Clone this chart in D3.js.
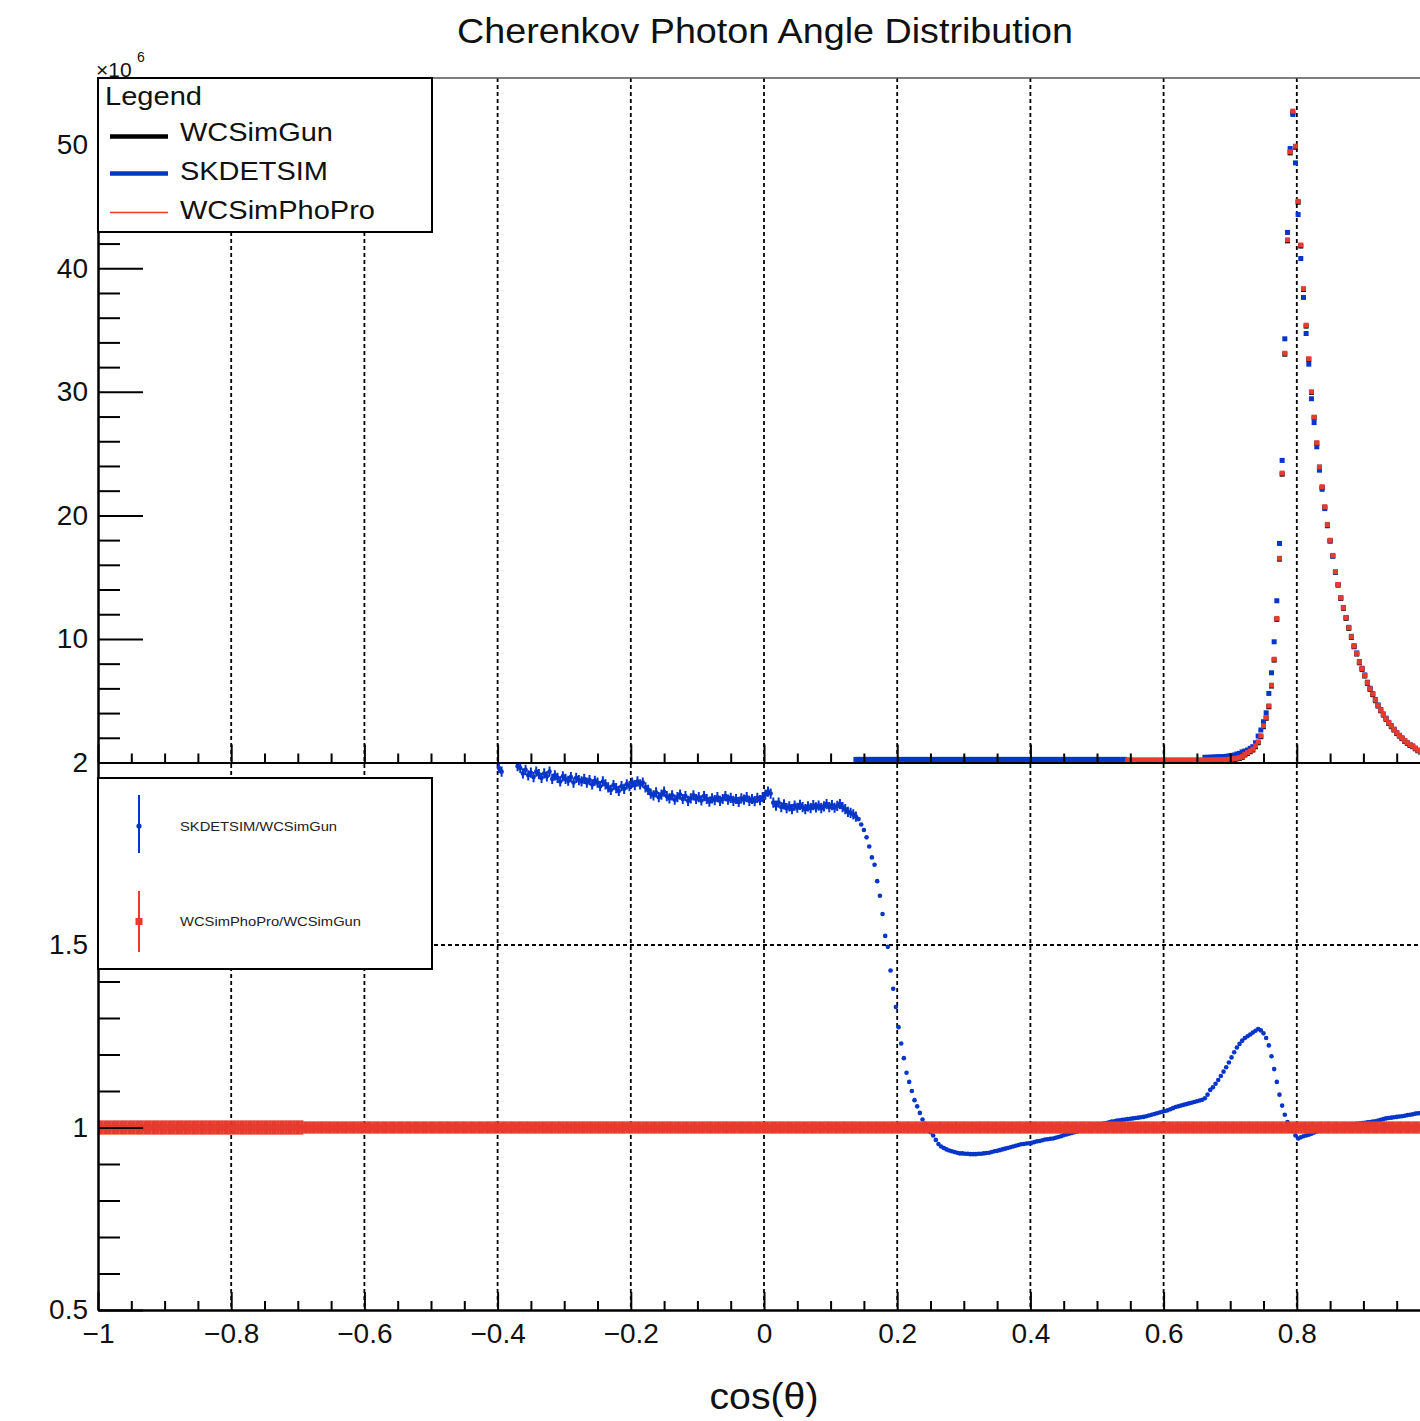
<!DOCTYPE html>
<html>
<head>
<meta charset="utf-8">
<script src="https://cdn.jsdelivr.net/npm/d3@7"></script>
<style>
  body { margin: 0; background: #fff; }
  text { font-family: "Liberation Sans", Arial, Helvetica, sans-serif; }
</style>
</head>
<body>
<script>
// histogram definition: 500 bins over cos(theta) in [-1, 1]
const nBins = 500;
const xMin = -1, xMax = 1;

// x axis ticks (the label at 1 falls outside the picture)
const xMajorTicks = [-1, -0.8, -0.6, -0.4, -0.2, 0, 0.2, 0.4, 0.6, 0.8, 1];
const xTickLabels = ["\u22121", "\u22120.8", "\u22120.6", "\u22120.4", "\u22120.2", "0", "0.2", "0.4", "0.6", "0.8", ""];
// top panel y ticks (x10^6)
const topYTicks = [10, 20, 30, 40, 50];
const topYLabels = ["10", "20", "30", "40", "50"];
// ratio panel y ticks
const ratioYTicks = [0.5, 1, 1.5, 2];
const ratioYLabels = ["0.5", "1", "1.5", "2"];

// ---- top panel: photons per bin (x10^6), bins 284..499 ----
const topFirstBin = 284;

const gunCounts = [
  // 284-414: on the axis
  0,0,0,0,0,0,0,0,0,0, 0,0,0,0,0,0,0,0,0,0, 0,0,0,0,0,0,0,0,0,0,
  0,0,0,0,0,0,0,0,0,0, 0,0,0,0,0,0,0,0,0,0, 0,0,0,0,0,0,0,0,0,0,
  0,0,0,0,0,0,0,0,0,0, 0,0,0,0,0,0,0,0,0,0, 0,0,0,0,0,0,0,0,0,0,
  0,0,0,0,0,0,0,0,0,0, 0,0,0,0,0,0,0,0,0,0, 0,0,0,0,0,0,0,0,0,0,
  0,0,0,0,0,0,0,0,0,0, 0,
  // 415-427
  0.12, 0.12, 0.13, 0.13, 0.14, 0.15, 0.16, 0.17, 0.18, 0.20, 0.22, 0.25, 0.29,
  // 428-454
  0.34, 0.42, 0.61, 0.74, 0.87, 1.01, 1.28, 1.60, 2.09, 2.90,
  3.58, 4.51, 6.19, 8.29, 11.59, 16.46, 23.34, 33.05, 42.22, 49.34,
  52.60, 49.80, 45.35, 41.80, 38.28, 35.32, 32.62,
  // 455-499
  29.95, 27.90, 25.83, 23.88, 22.27, 20.65, 19.22, 17.94, 16.71, 15.39,
  14.36, 13.28, 12.48, 11.67, 10.86, 10.13, 9.37, 8.78, 8.07, 7.54,
  7.00, 6.41, 5.92, 5.49, 5.00, 4.57, 4.19, 3.84, 3.50, 3.17,
  2.90, 2.63, 2.36, 2.14, 1.93, 1.72, 1.55, 1.39, 1.28, 1.11,
  0.95, 0.85, 0.75, 0.68, 0.60
];

const skdetsimCounts = [
  // 284-385
  0.25,0.25,0.25,0.25,0.25,0.25,0.25,0.25,0.25,0.25, 0.25,0.25,0.25,0.25,0.25,0.25,0.25,0.25,0.25,0.25,
  0.25,0.25,0.25,0.25,0.25,0.25,0.25,0.25,0.25,0.25, 0.25,0.25,0.25,0.25,0.25,0.25,0.25,0.25,0.25,0.25,
  0.25,0.25,0.25,0.25,0.25,0.25,0.25,0.25,0.25,0.25, 0.25,0.25,0.25,0.25,0.25,0.25,0.25,0.25,0.25,0.25,
  0.25,0.25,0.25,0.25,0.25,0.25,0.25,0.25,0.25,0.25, 0.25,0.25,0.25,0.25,0.25,0.25,0.25,0.25,0.25,0.25,
  0.25,0.25,0.25,0.25,0.25,0.25,0.25,0.25,0.25,0.25, 0.25,0.25,0.25,0.25,0.25,0.25,0.25,0.25,0.25,0.25,
  0.25,0.25,
  // 386-414
  0,0,0,0,0,0,0,0,0,0, 0,0,0,0,0,0,0,0,0,0, 0,0,0,0,0,0,0,0,0,
  // 415-427
  0.42, 0.42, 0.43, 0.44, 0.45, 0.46, 0.47, 0.48, 0.50, 0.53, 0.56, 0.61, 0.69,
  // 428-454
  0.74, 0.86, 0.93, 1.01, 1.15, 1.28, 1.60, 2.14, 2.63, 3.30,
  4.02, 5.59, 7.26, 9.77, 13.09, 17.73, 24.45, 34.29, 42.90, 49.69,
  52.45, 48.53, 44.35, 40.79, 37.64, 34.72, 32.24,
  // 455-499
  29.44, 27.51, 25.55, 23.66, 22.11, 20.55, 19.16, 17.92, 16.71, 15.41,
  14.39, 13.33, 12.54, 11.74, 10.94, 10.21, 9.45, 8.87, 8.16, 7.63,
  7.09, 6.50, 6.01, 5.58, 5.09, 4.66, 4.28, 3.93, 3.59, 3.25,
  2.98, 2.70, 2.43, 2.20, 1.99, 1.78, 1.60, 1.44, 1.33, 1.15,
  0.99, 0.88, 0.78, 0.71, 0.63
];

const phoProCounts = [
  // 284-385
  0,0,0,0,0,0,0,0,0,0, 0,0,0,0,0,0,0,0,0,0, 0,0,0,0,0,0,0,0,0,0,
  0,0,0,0,0,0,0,0,0,0, 0,0,0,0,0,0,0,0,0,0, 0,0,0,0,0,0,0,0,0,0,
  0,0,0,0,0,0,0,0,0,0, 0,0,0,0,0,0,0,0,0,0, 0,0,0,0,0,0,0,0,0,0,
  0,0,0,0,0,0,0,0,0,0, 0,0,
  // 386-414
  0.2,0.2,0.2,0.2,0.2,0.2,0.2,0.2,0.2,0.2, 0.2,0.2,0.2,0.2,0.2,0.2,0.2,0.2,0.2,0.2,
  0.2,0.2,0.2,0.2,0.2,0.2,0.2,0.2,0.2,
  // 415-427
  0.20, 0.20, 0.20, 0.21, 0.21, 0.22, 0.22, 0.23, 0.24, 0.26, 0.28, 0.31, 0.35,
  // 428-454
  0.40, 0.48, 0.66, 0.80, 0.93, 1.08, 1.35, 1.67, 2.16, 2.97,
  3.65, 4.58, 6.26, 8.36, 11.66, 16.53, 23.42, 33.12, 42.30, 49.42,
  52.72, 49.88, 45.42, 41.88, 38.35, 35.39, 32.68,
  // 455-499
  30.00, 27.95, 25.88, 23.93, 22.32, 20.70, 19.27, 17.99, 16.76, 15.44,
  14.41, 13.33, 12.53, 11.72, 10.91, 10.18, 9.42, 8.83, 8.12, 7.59,
  7.05, 6.46, 5.97, 5.54, 5.05, 4.62, 4.24, 3.89, 3.55, 3.22,
  2.95, 2.68, 2.41, 2.19, 1.98, 1.77, 1.60, 1.44, 1.33, 1.16,
  1.00, 0.90, 0.80, 0.73, 0.65
];

// ---- ratio panel ----
// SKDETSIM / WCSimGun, bins 150..499
const skRatioFirstBin = 150;
const skRatio = [
  1.985, 1.975, 2.01, 2.02, 2.005, 2.015, 2.01, 1.99, 1.985, 1.97,
  1.98, 1.965, 1.972, 1.96, 1.975, 1.968, 1.958, 1.97, 1.962, 1.975,
  1.955, 1.965, 1.958, 1.948, 1.962, 1.955, 1.95, 1.96, 1.945, 1.958,
  1.952, 1.948, 1.955, 1.945, 1.952, 1.94, 1.95, 1.945, 1.935, 1.948,
  1.94, 1.932, 1.925, 1.938, 1.93, 1.922, 1.935, 1.928, 1.94, 1.935,
  1.945, 1.938, 1.948, 1.94, 1.945, 1.932, 1.925, 1.915, 1.91, 1.918,
  1.905, 1.912, 1.92, 1.908, 1.902, 1.91, 1.898, 1.905, 1.912, 1.9,
  1.908, 1.895, 1.902, 1.91, 1.9, 1.905, 1.896, 1.908, 1.9, 1.893,
  1.902, 1.897, 1.905, 1.895, 1.9, 1.908, 1.898, 1.903, 1.895, 1.9,
  1.892, 1.902, 1.898, 1.905, 1.895, 1.9, 1.894, 1.903, 1.897, 1.905,
  1.912, 1.92, 1.915, 1.89, 1.882, 1.89, 1.878, 1.885, 1.875, 1.88,
  1.872, 1.882, 1.876, 1.884, 1.878, 1.872, 1.88, 1.875, 1.883, 1.877,
  1.882, 1.875, 1.88, 1.886, 1.878, 1.883, 1.876, 1.881, 1.886, 1.878,
  1.872, 1.865, 1.862, 1.858, 1.852,
  // 285-299
  1.845, 1.83, 1.815, 1.795, 1.77, 1.74, 1.72, 1.675, 1.635, 1.585, 1.525, 1.495, 1.43, 1.38, 1.33,
  // 300-
  1.275, 1.23, 1.19, 1.15, 1.125, 1.10, 1.075, 1.058, 1.04, 1.022,
  1.01, 0.998, 0.987, 0.978, 0.966, 0.955, 0.948, 0.944, 0.94, 0.937,
  0.935, 0.933, 0.931, 0.929, 0.929, 0.928, 0.928, 0.927, 0.927, 0.927,
  0.928, 0.928, 0.929, 0.930, 0.931, 0.933, 0.935, 0.936, 0.938, 0.940,
  0.942, 0.944, 0.946, 0.948, 0.950, 0.952, 0.954, 0.955, 0.956, 0.957,
  0.958, 0.960, 0.962, 0.963, 0.965, 0.967, 0.968, 0.969, 0.970, 0.972,
  0.974, 0.976, 0.979, 0.981, 0.983, 0.985, 0.987, 0.989, 0.991, 0.994,
  0.997, 1.000, 1.003, 1.005, 1.007, 1.008, 1.009, 1.011, 1.012, 1.014,
  1.016, 1.017, 1.019, 1.020, 1.021, 1.022, 1.023, 1.024, 1.025, 1.026,
  1.027, 1.028, 1.029, 1.031, 1.033, 1.035, 1.037, 1.039, 1.041, 1.043,
  1.045, 1.047, 1.050, 1.053, 1.056, 1.058, 1.060, 1.062, 1.064, 1.066,
  1.068, 1.070, 1.072, 1.074, 1.076, 1.080, 1.090, 1.103, 1.110, 1.120,
  1.130, 1.141, 1.153, 1.165, 1.178, 1.192, 1.206, 1.219, 1.229, 1.238,
  1.245, 1.250, 1.255, 1.260, 1.265, 1.270, 1.266, 1.258, 1.245, 1.225,
  1.195, 1.16, 1.125, 1.09, 1.06, 1.035, 1.015, 1.0, 0.99, 0.978,
  0.97, 0.973, 0.976, 0.978, 0.980, 0.983, 0.986, 0.989, 0.991, 0.993,
  0.995, 0.997, 0.999, 1.0, 1.001, 1.002, 1.004, 1.005, 1.006, 1.007,
  1.008, 1.009, 1.010, 1.011, 1.012, 1.013, 1.014, 1.015, 1.016, 1.017,
  1.019, 1.021, 1.023, 1.025, 1.026, 1.027, 1.028, 1.029, 1.030, 1.031,
  1.032, 1.034, 1.035, 1.036, 1.038, 1.039, 1.040, 1.041, 1.042, 1.043
];
// error half-heights: [first bin, last bin, error]
const skRatioErr = [[150, 284, 0.014], [285, 499, 0.002]];

// WCSimPhoPro / WCSimGun, bins 0..499
const phoProRatio = [
  1,1,1,1,1,1,1,1,1,1, 1,1,1,1,1,1,1,1,1,1, 1,1,1,1,1,1,1,1,1,1, 1,1,1,1,1,1,1,1,1,1, 1,1,1,1,1,1,1,1,1,1,
  1,1,1,1,1,1,1,1,1,1, 1,1,1,1,1,1,1,1,1,1, 1,1,1,1,1,1,1,1,1,1, 1,1,1,1,1,1,1,1,1,1, 1,1,1,1,1,1,1,1,1,1,
  1,1,1,1,1,1,1,1,1,1, 1,1,1,1,1,1,1,1,1,1, 1,1,1,1,1,1,1,1,1,1, 1,1,1,1,1,1,1,1,1,1, 1,1,1,1,1,1,1,1,1,1,
  1,1,1,1,1,1,1,1,1,1, 1,1,1,1,1,1,1,1,1,1, 1,1,1,1,1,1,1,1,1,1, 1,1,1,1,1,1,1,1,1,1, 1,1,1,1,1,1,1,1,1,1,
  1,1,1,1,1,1,1,1,1,1, 1,1,1,1,1,1,1,1,1,1, 1,1,1,1,1,1,1,1,1,1, 1,1,1,1,1,1,1,1,1,1, 1,1,1,1,1,1,1,1,1,1,
  1,1,1,1,1,1,1,1,1,1, 1,1,1,1,1,1,1,1,1,1, 1,1,1,1,1,1,1,1,1,1, 1,1,1,1,1,1,1,1,1,1, 1,1,1,1,1,1,1,1,1,1,
  1,1,1,1,1,1,1,1,1,1, 1,1,1,1,1,1,1,1,1,1, 1,1,1,1,1,1,1,1,1,1, 1,1,1,1,1,1,1,1,1,1, 1,1,1,1,1,1,1,1,1,1,
  1,1,1,1,1,1,1,1,1,1, 1,1,1,1,1,1,1,1,1,1, 1,1,1,1,1,1,1,1,1,1, 1,1,1,1,1,1,1,1,1,1, 1,1,1,1,1,1,1,1,1,1,
  1,1,1,1,1,1,1,1,1,1, 1,1,1,1,1,1,1,1,1,1, 1,1,1,1,1,1,1,1,1,1, 1,1,1,1,1,1,1,1,1,1, 1,1,1,1,1,1,1,1,1,1,
  1,1,1,1,1,1,1,1,1,1, 1,1,1,1,1,1,1,1,1,1, 1,1,1,1,1,1,1,1,1,1, 1,1,1,1,1,1,1,1,1,1, 1,1,1,1,1,1,1,1,1,1
];
const phoProRatioErr = [[0, 76, 0.0195], [77, 499, 0.0168]];

const seriesNames = ["WCSimGun", "SKDETSIM", "WCSimPhoPro"];
const ratioNames = ["SKDETSIM/WCSimGun", "WCSimPhoPro/WCSimGun"];

// colours
const black = "#000000", blue = "#0635c9", red = "#e63b2e";

// layout
const W = 1420, H = 1421;
const left = 98, right = 1430;
const topY = 78, splitY = 762.5, bottomY = 1310;

const svg = d3.select("body").append("svg")
    .attr("width", W)
    .attr("height", H);

const x = d3.scaleLinear().domain([xMin, xMax]).range([left, right]);
const yTop = d3.scaleLinear().domain([0, 55.4]).range([splitY, topY]);
const yRatio = d3.scaleLinear().domain([0.5, 2]).range([bottomY, splitY]);

const binW = (xMax - xMin) / nBins;
const binCenter = i => xMin + (i + 0.5) * binW;
const errFor = (bands, i) => {
    const b = bands.find(b => i >= b[0] && i <= b[1]);
    return b ? b[2] : 0;
};

// clip paths
const defs = svg.append("defs");
defs.append("clipPath").attr("id", "clipTop").append("rect")
    .attr("x", left).attr("y", topY).attr("width", right - left).attr("height", splitY - topY);
defs.append("clipPath").attr("id", "clipRatio").append("rect")
    .attr("x", left).attr("y", splitY).attr("width", right - left).attr("height", bottomY - splitY);

// grid
const gridX = xMajorTicks.filter(d => d > xMin && d < xMax);
svg.append("g").selectAll("line").data(gridX).join("line")
    .attr("x1", d => x(d)).attr("x2", d => x(d))
    .attr("y1", topY).attr("y2", bottomY)
    .attr("stroke", "#000").attr("stroke-width", 1.8).attr("stroke-dasharray", "4,3");
svg.append("g").selectAll("line").data([1, 1.5]).join("line")
    .attr("x1", left).attr("x2", right)
    .attr("y1", d => yRatio(d)).attr("y2", d => yRatio(d))
    .attr("stroke", "#000").attr("stroke-width", 1.8).attr("stroke-dasharray", "4,3");

// top panel markers
const gTop = svg.append("g").attr("clip-path", "url(#clipTop)");
[[gunCounts, black], [skdetsimCounts, blue], [phoProCounts, red]].forEach(([vals, col]) => {
    const pts = vals.map((v, k) => ({ bin: topFirstBin + k, v })).filter(d => d.v > 0);
    gTop.append("g").selectAll("rect").data(pts).join("rect")
        .attr("x", d => x(binCenter(d.bin)) - 2.5)
        .attr("y", d => yTop(d.v) - 2.5)
        .attr("width", 5).attr("height", 5)
        .attr("fill", col);
});

// ratio panel
const gRatio = svg.append("g").attr("clip-path", "url(#clipRatio)");
const skPts = skRatio.map((v, k) => ({ bin: skRatioFirstBin + k, v }))
    .filter(d => d.v >= 0.5 && d.v <= 2)
    .map(d => ({ ...d, e: errFor(skRatioErr, d.bin) }));
const gSk = gRatio.append("g");
gSk.selectAll("line.v").data(skPts).join("line").attr("class", "v")
    .attr("x1", d => x(binCenter(d.bin))).attr("x2", d => x(binCenter(d.bin)))
    .attr("y1", d => yRatio(d.v + d.e)).attr("y2", d => yRatio(d.v - d.e))
    .attr("stroke", blue).attr("stroke-width", 2);
gSk.selectAll("line.h").data(skPts).join("line").attr("class", "h")
    .attr("x1", d => x(binCenter(d.bin) - binW / 2)).attr("x2", d => x(binCenter(d.bin) + binW / 2))
    .attr("y1", d => yRatio(d.v)).attr("y2", d => yRatio(d.v))
    .attr("stroke", blue).attr("stroke-width", 2.6);
gSk.selectAll("circle").data(skPts).join("circle")
    .attr("cx", d => x(binCenter(d.bin))).attr("cy", d => yRatio(d.v))
    .attr("r", 2.3).attr("fill", blue);

const ppPts = phoProRatio.map((v, i) => ({ bin: i, v, e: errFor(phoProRatioErr, i) }));
const gPp = gRatio.append("g");
gPp.selectAll("rect.err").data(ppPts).join("rect").attr("class", "err")
    .attr("x", d => x(binCenter(d.bin) - binW / 2))
    .attr("width", x(binW) - x(0) + 0.3)
    .attr("y", d => yRatio(d.v + d.e))
    .attr("height", d => yRatio(d.v - d.e) - yRatio(d.v + d.e))
    .attr("fill", red);
gPp.selectAll("rect.m").data(ppPts).join("rect").attr("class", "m")
    .attr("x", d => x(binCenter(d.bin)) - 3).attr("y", d => yRatio(d.v) - 3)
    .attr("width", 6).attr("height", 6).attr("fill", red);

// axes
const xMinorTicks = d3.range(-100, 101, 5).map(v => v / 100)
    .filter(v => !xMajorTicks.some(m => Math.abs(m - v) < 1e-9));
const topYMinor = d3.range(2, 56, 2).filter(v => v % 10 !== 0);
const ratioYMinor = d3.range(6, 20).map(v => v / 10).filter(v => !ratioYTicks.some(m => Math.abs(m - v) < 1e-9));

function styleAxis(g, fontSize) {
    g.select(".domain").attr("stroke", "#000").attr("stroke-width", 2);
    g.selectAll(".tick line").attr("stroke", "#000").attr("stroke-width", 2);
    g.selectAll(".tick text").attr("font-size", fontSize).attr("fill", "#111")
        .style("font-family", '"Liberation Sans", Arial, sans-serif');
}

function xAxis(yPos, labels) {
    const g1 = svg.append("g").attr("transform", `translate(0,${yPos})`)
        .call(d3.axisBottom(x).tickValues(xMinorTicks).tickSize(-9).tickSizeOuter(0).tickFormat(""));
    styleAxis(g1, 28);
    const g2 = svg.append("g").attr("transform", `translate(0,${yPos})`)
        .call(d3.axisBottom(x).tickValues(xMajorTicks).tickSize(-18).tickSizeOuter(0).tickPadding(13)
            .tickFormat((d, i) => labels ? xTickLabels[i] : ""));
    styleAxis(g2, 28);
}

function yAxis(scale, major, majorLabels, minor) {
    const g1 = svg.append("g").attr("transform", `translate(${left},0)`)
        .call(d3.axisLeft(scale).tickValues(minor).tickSize(-22).tickSizeOuter(0).tickFormat(""));
    styleAxis(g1, 28);
    const g2 = svg.append("g").attr("transform", `translate(${left},0)`)
        .call(d3.axisLeft(scale).tickValues(major).tickSize(-45).tickSizeOuter(0).tickPadding(10)
            .tickFormat((d, i) => majorLabels[i]));
    styleAxis(g2, 28);
}

yAxis(yTop, topYTicks, topYLabels, topYMinor);
yAxis(yRatio, ratioYTicks, ratioYLabels, ratioYMinor);
xAxis(splitY, false);
xAxis(bottomY, true);

// top frame line
svg.append("line").attr("x1", left).attr("x2", right).attr("y1", topY).attr("y2", topY)
    .attr("stroke", "#555").attr("stroke-width", 1.5);

// x10^6
svg.append("text").attr("x", 96).attr("y", 77).attr("font-size", 21).attr("fill", "#111").text("\u00d710");
svg.append("text").attr("x", 137).attr("y", 62).attr("font-size", 14).attr("fill", "#111").text("6");

// title
svg.append("text").attr("x", 765).attr("y", 43).attr("text-anchor", "middle")
    .attr("font-size", 35).attr("fill", "#111")
    .attr("textLength", 616).attr("lengthAdjust", "spacingAndGlyphs")
    .text("Cherenkov Photon Angle Distribution");

// x axis title
svg.append("text").attr("x", 764).attr("y", 1409).attr("text-anchor", "middle")
    .attr("font-size", 36).attr("fill", "#111")
    .attr("textLength", 109).attr("lengthAdjust", "spacingAndGlyphs")
    .text("cos(\u03b8)");

// legend (top)
const leg1 = svg.append("g");
leg1.append("rect").attr("x", left).attr("y", topY).attr("width", 334).attr("height", 154)
    .attr("fill", "#fff").attr("stroke", "#000").attr("stroke-width", 2);
leg1.append("text").attr("x", 105).attr("y", 105).attr("font-size", 26).attr("fill", "#111")
    .attr("textLength", 97).attr("lengthAdjust", "spacingAndGlyphs").text("Legend");
const legRows = [
    { name: seriesNames[0], color: black, w: 4.5, ly: 136.5, ty: 141, tl: 153 },
    { name: seriesNames[1], color: blue, w: 4.5, ly: 173.5, ty: 180, tl: 148 },
    { name: seriesNames[2], color: red, w: 1.5, ly: 212.5, ty: 218.5, tl: 195 }
];
legRows.forEach(r => {
    leg1.append("line").attr("x1", 110).attr("x2", 168).attr("y1", r.ly).attr("y2", r.ly)
        .attr("stroke", r.color).attr("stroke-width", r.w);
    leg1.append("text").attr("x", 180).attr("y", r.ty).attr("font-size", 26).attr("fill", "#111")
        .attr("textLength", r.tl).attr("lengthAdjust", "spacingAndGlyphs").text(r.name);
});

// legend (ratio)
const leg2 = svg.append("g");
leg2.append("rect").attr("x", left).attr("y", 778).attr("width", 334).attr("height", 191)
    .attr("fill", "#fff").attr("stroke", "#000").attr("stroke-width", 2);
leg2.append("line").attr("x1", 139).attr("x2", 139).attr("y1", 795).attr("y2", 853)
    .attr("stroke", blue).attr("stroke-width", 2);
leg2.append("circle").attr("cx", 139).attr("cy", 826).attr("r", 2.6).attr("fill", blue);
leg2.append("text").attr("x", 180).attr("y", 830.5).attr("font-size", 12).attr("fill", "#222")
    .attr("textLength", 157).attr("lengthAdjust", "spacingAndGlyphs").text(ratioNames[0]);
leg2.append("line").attr("x1", 139).attr("x2", 139).attr("y1", 891).attr("y2", 952)
    .attr("stroke", red).attr("stroke-width", 2);
leg2.append("rect").attr("x", 135.5).attr("y", 918).attr("width", 7).attr("height", 7).attr("fill", red);
leg2.append("text").attr("x", 180).attr("y", 925.5).attr("font-size", 12).attr("fill", "#222")
    .attr("textLength", 181).attr("lengthAdjust", "spacingAndGlyphs").text(ratioNames[1]);
</script>
</body>
</html>
